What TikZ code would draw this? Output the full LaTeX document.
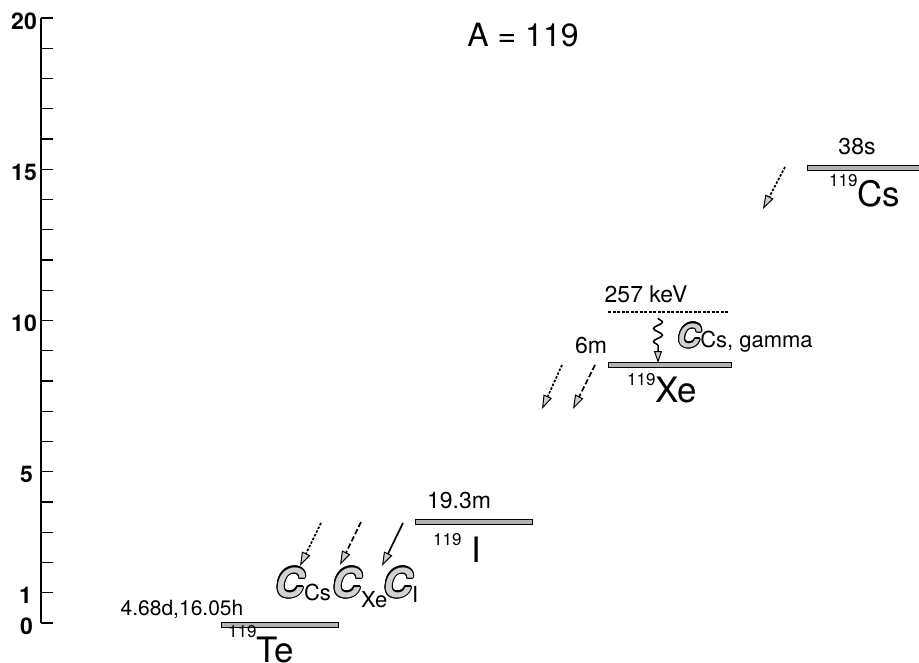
\documentclass[tikz,border=0pt]{standalone}
\usepackage{fontspec}
\setmainfont{TeX Gyre Heros}
\usepackage[copies]{contour}
\contourlength{1.1pt}
\contournumber{16}
\usetikzlibrary{arrows.meta,decorations.pathmorphing}
\newcommand\myfs[1]{\fontsize{#1}{#1}\selectfont}
\newcommand\bigC[1]{{\myfs{#1}\bfseries\itshape\contour{black}{\textcolor{gray!35}{C}}}}
\tikzset{
  lvl/.style={draw=black, line width=0.8pt, fill=gray!60},
  lab/.style={inner sep=0pt, anchor=base},
  labw/.style={inner sep=0pt, anchor=base west},
  tick/.style={line width=1.4pt},
  decay/.style={line width=1.7pt, -{Triangle[length=14pt,width=9pt,fill=gray!40,line width=1pt]}},
  dotarr/.style={decay, dash pattern=on 2.5pt off 1.6pt},
  dasharr/.style={decay, dash pattern=on 5.5pt off 2.5pt},
}
\begin{document}
\begin{tikzpicture}[x=1pt,y=-1pt]
\useasboundingbox (0,0) rectangle (919,663);
% axis
\draw[tick] (41,18) -- (41,623);
\foreach \v in {0,...,20}{\draw[tick] (41,623-30.25*\v) -- (53,623-30.25*\v);}
\foreach \v/\xr in {0/33,1/32,5/33,10/37,15/37,20/37}{
  \node[inner sep=0pt, anchor=east, font=\myfs{23}\bfseries] at (\xr,626-30.25*\v) {\v};}
% title
\node[lab, font=\myfs{32}] (title) at (523,47) {A = 119};
% levels
\draw[lvl] (221,622) rectangle (338,627);
\draw[lvl] (415,519.5) rectangle (532,524.5);
\draw[lvl] (608,362.5) rectangle (731,367.5);
\draw[lvl] (807,165.5) rectangle (925,170.5);
\draw[line width=1.6pt, dash pattern=on 3pt off 1.5pt] (608,312) -- (728,312);
% half-lives
\node[lab, font=\myfs{21}] (hte) at (182,615) {4.68d,16.05h};
\node[lab, font=\myfs{23}] (hi) at (459,508) {19.3m};
\node[lab, font=\myfs{23}] (hxe) at (591,353) {6m};
\node[lab, font=\myfs{23}] (hcs) at (857,155) {38s};
\node[lab, font=\myfs{23}] (kev) at (646,303) {257 keV};
% isotopes
\node[labw] (te) at (228,662) {\myfs{17}\raisebox{25pt}{119}\myfs{35}Te};
\node[labw] (iod) at (433,562) {\myfs{17}\raisebox{17pt}{119}\hspace{10pt}\myfs{35}I};
\node[labw] (xe) at (627,402) {\myfs{17}\raisebox{17pt}{119}\myfs{35}Xe};
\node[labw] (cs) at (829,207) {\myfs{17}\raisebox{20pt}{119}\myfs{35}Cs};
% C labels
\node[labw] (ccs) at (275,597) {\bigC{40}\myfs{22}\raisebox{-3pt}{Cs}};
\node[labw] (cxe) at (332,597) {\bigC{40}\myfs{22}\raisebox{-10pt}{Xe}};
\node[labw] (ci) at (383,597) {\bigC{40}\myfs{22}\raisebox{-5pt}{I}};
\node[labw] (cg) at (677,347) {\bigC{32}\myfs{22}\raisebox{-1pt}{Cs, gamma}};
% arrows
\coordinate (a1s) at (321,523); \coordinate (a1e) at (300,566);
\coordinate (a2s) at (361,522); \coordinate (a2e) at (340,565);
\coordinate (a3s) at (403,523); \coordinate (a3e) at (382,566);
\coordinate (b1s) at (562,365); \coordinate (b1e) at (542,409);
\coordinate (b2s) at (595,365); \coordinate (b2e) at (573,409);
\coordinate (c1s) at (785,167); \coordinate (c1e) at (763,209);
\draw[dotarr] (a1s) -- (a1e);
\draw[dasharr] (a2s) -- (a2e);
\draw[decay] (a3s) -- (a3e);
\draw[dotarr] (b1s) -- (b1e);
\draw[dasharr] (b2s) -- (b2e);
\draw[dotarr] (c1s) -- (c1e);
% gamma wavy arrow
\coordinate (ws) at (658,318); \coordinate (we) at (658,363);
\draw[line width=1.5pt, -{Triangle[length=12pt,width=8pt,fill=gray!40,line width=1pt]},
  decorate, decoration={snake, amplitude=4.5pt, segment length=13pt, post length=11pt}] (ws) -- (we);
\end{tikzpicture}
\end{document}
